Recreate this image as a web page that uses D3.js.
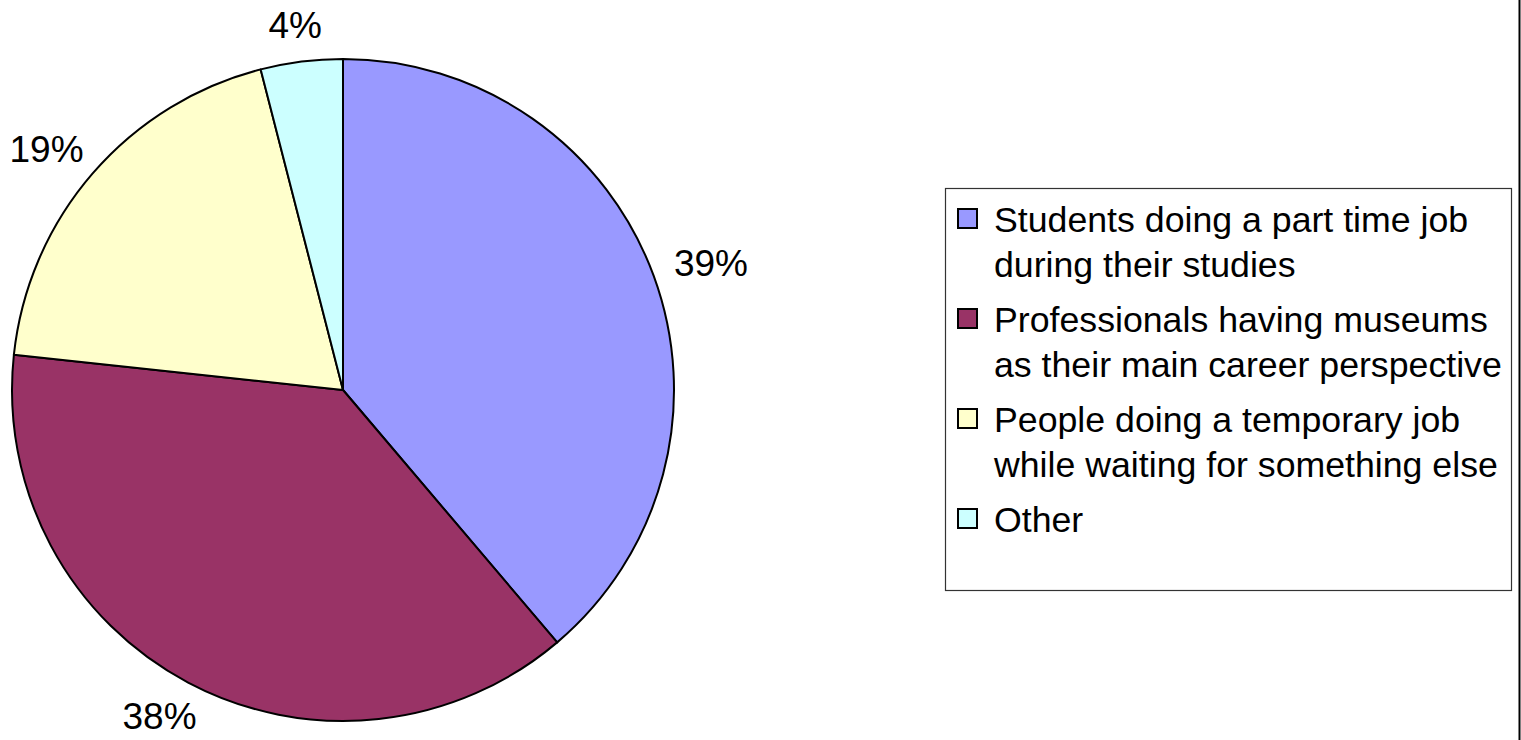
<!DOCTYPE html>
<html>
<head>
<meta charset="utf-8">
<script src="https://cdn.jsdelivr.net/npm/d3@7"></script>
<style>
  html, body { margin: 0; padding: 0; background: #fff; }
  svg { display: block; }
  text { font-family: "Liberation Sans", Arial, sans-serif; fill: #000; }
</style>
</head>
<body>
<svg id="chart" width="1521" height="740"></svg>
<script>
const categories = [
  ["Students doing a part time job", "during their studies"],
  ["Professionals having museums", "as their main career perspective"],
  ["People doing a temporary job", "while waiting for something else"],
  ["Other"]
];
const values = [38.8, 37.9, 19.3, 4.0];
const colors = ["#9999FF", "#993366", "#FFFFCC", "#CCFFFF"];

const svg = d3.select("#chart");
const cx = 343, cy = 390, R = 331;
const labelFont = 37, labelGap = 24;

const total = d3.sum(values);
const pie = d3.pie().sort(null).value(d => d);
const arcs = pie(values);
const arc = d3.arc().innerRadius(0).outerRadius(R);
const anchorArc = d3.arc().innerRadius(R + labelGap).outerRadius(R + labelGap);

const g = svg.append("g").attr("transform", `translate(${cx},${cy})`);
g.selectAll("path.slice").data(arcs).enter().append("path")
  .attr("class", "slice")
  .attr("d", arc)
  .attr("fill", (d, i) => colors[i])
  .attr("stroke", "#000")
  .attr("stroke-width", 2)
  .attr("stroke-linejoin", "round");

// labels: text box sits just outside the rim in the slice's mid direction
g.selectAll("text.pct").data(arcs).enter().append("text")
  .attr("class", "pct")
  .attr("text-anchor", "middle")
  .style("font-size", labelFont + "px")
  .text(d => Math.round(d.value / total * 100) + "%")
  .each(function(d) {
    const bb = this.getBBox();
    const hw = bb.width / 2, hh = labelFont * 0.36;
    const mid = (d.startAngle + d.endAngle) / 2;
    const ux = Math.sin(mid), uy = -Math.cos(mid);
    const [ax, ay] = anchorArc.centroid(d);
    const tx = ax + ux * hw, ty = ay + uy * hh;
    d3.select(this).attr("x", tx).attr("y", ty + labelFont * 0.358);
  });

// Legend
const lx = 945, ly = 188, lw = 566, lh = 402;
svg.append("rect").attr("x", lx + 0.5).attr("y", ly + 0.5)
  .attr("width", lw).attr("height", lh)
  .attr("fill", "#fff").attr("stroke", "#333").attr("stroke-width", 1.2);

const entryY = d3.scaleLinear().domain([0, 1]).range([232, 332]);
const lineGap = 44.5;
categories.forEach((lines, i) => {
  const by = entryY(i);
  svg.append("rect")
    .attr("x", 958).attr("y", by - 23)
    .attr("width", 19).attr("height", 19)
    .attr("fill", colors[i]).attr("stroke", "#000").attr("stroke-width", 2);
  const t = svg.append("text").attr("x", 994).attr("y", by).style("font-size", "35.7px");
  lines.forEach((ln, j) => {
    t.append("tspan").attr("x", 994).attr("y", by + j * lineGap).text(ln);
  });
});

// right edge line
svg.append("line").attr("x1", 1519.5).attr("x2", 1519.5).attr("y1", 0).attr("y2", 740)
  .attr("stroke", "#000").attr("stroke-width", 2);
</script>
</body>
</html>
